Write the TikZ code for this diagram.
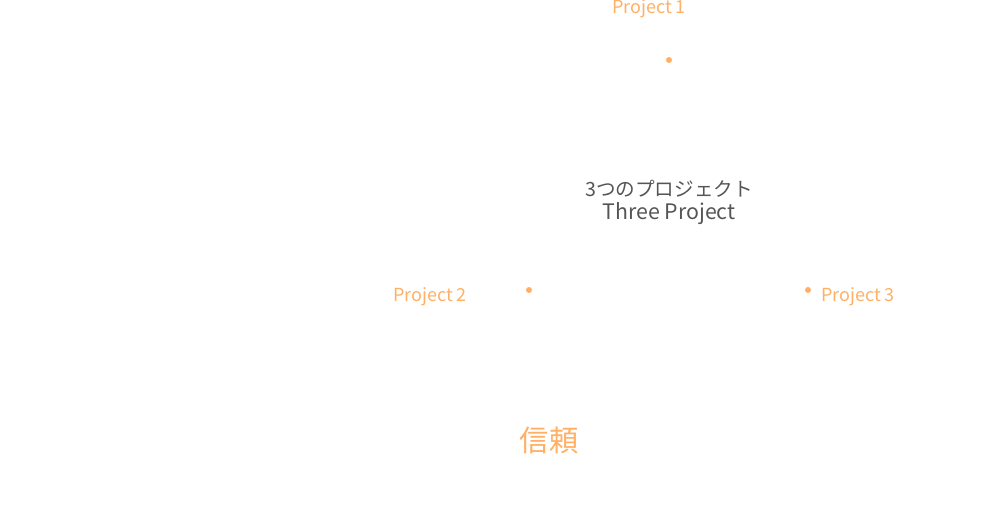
\documentclass[tikz,border=0pt]{standalone}
\usepackage{fontspec}
\setmainfont{Noto Sans CJK JP}
\definecolor{orng}{HTML}{FFB064}
\definecolor{gry}{HTML}{555555}
\begin{document}
\begin{tikzpicture}[x=0.75pt,y=-0.75pt,
  dot/.style={circle,fill=orng,inner sep=0pt,minimum size=4.5pt},
  plabel/.style={text=orng,font=\fontsize{13.5}{16}\selectfont,inner sep=0pt},
  ctext/.style={text=gry,inner sep=0pt},
  trust/.style={text=orng,font=\fontsize{22}{26}\selectfont,inner sep=0pt}]
\useasboundingbox (0,0) rectangle (1000,530);
\node[plabel] (p1) at (649,9) {Project 1};
\node[dot] (d1) at (669,60) {};
\node[ctext,font=\fontsize{14.7}{19}\selectfont] (center1) at (669,189) {3つのプロジェクト};
\node[ctext,font=\fontsize{16}{19}\selectfont] (center2) at (669,214) {Three Project};
\node[plabel] (p2) at (430,297) {Project 2};
\node[dot] (d2) at (529,290) {};
\node[dot] (d3) at (808,290) {};
\node[plabel] (p3) at (858,297) {Project 3};
\node[trust] (t) at (549,440) {信頼};
\end{tikzpicture}
\end{document}
